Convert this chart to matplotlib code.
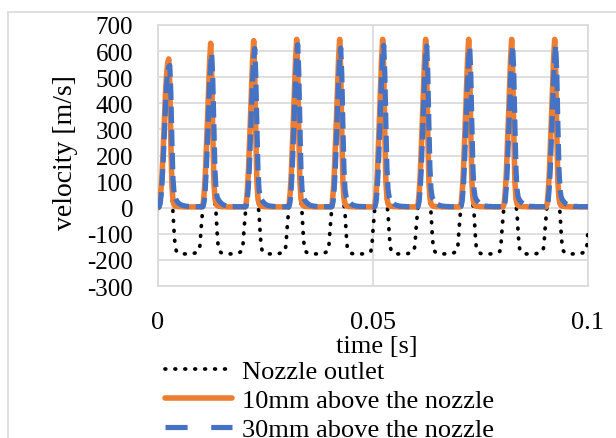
import numpy as np
import matplotlib
matplotlib.use("Agg")
import matplotlib.pyplot as plt
from matplotlib.patches import Rectangle
from matplotlib.lines import Line2D

plt.rcParams['font.family'] = ['Liberation Serif', 'DejaVu Serif']

# sampling times (s), 0.00025 s step, 0 .. 0.1
time_s = np.arange(401) * 0.00025

# velocity [m/s] at nozzle outlet (two lines per 0.01 s period, 40 samples per period)
nozzle_outlet = [
    0, 10, 40, 90, 160, 250, 350, 440, 500, 535, 545, 450, 220, 50, -20, -95, -150, -165, -170, -173,
    -175, -176, -177, -177, -177, -177, -177, -177, -177, -177, -177, -176, -176, -175, -174, -173, -171, -169, -166, -145,
    -85, -35, 15, 65, 140, 232, 340, 455, 552, 600, 495, 258, 80, 10, -20, -95, -150, -165, -170, -173,
    -175, -176, -177, -177, -177, -177, -177, -177, -177, -177, -177, -176, -176, -175, -174, -173, -171, -169, -167, -145,
    -85, -35, 15, 65, 140, 235, 345, 460, 560, 612, 500, 260, 80, 10, -20, -95, -150, -165, -170, -173,
    -175, -176, -177, -177, -177, -177, -177, -177, -177, -177, -177, -176, -176, -175, -174, -173, -171, -169, -167, -145,
    -85, -35, 15, 65, 140, 236, 347, 463, 565, 618, 503, 262, 80, 10, -20, -95, -150, -165, -170, -173,
    -175, -176, -177, -177, -177, -177, -177, -177, -177, -177, -177, -176, -176, -175, -174, -173, -171, -169, -167, -145,
    -85, -35, 15, 65, 140, 236, 347, 463, 565, 618, 503, 262, 80, 10, -20, -95, -150, -165, -170, -173,
    -175, -176, -177, -177, -177, -177, -177, -177, -177, -177, -177, -176, -176, -175, -174, -173, -171, -169, -167, -145,
    -85, -35, 15, 65, 140, 236, 347, 463, 565, 618, 503, 262, 80, 10, -20, -95, -150, -165, -170, -173,
    -175, -176, -177, -177, -177, -177, -177, -177, -177, -177, -177, -176, -176, -175, -174, -173, -171, -169, -167, -145,
    -85, -35, 15, 65, 140, 236, 347, 463, 565, 618, 503, 262, 80, 10, -20, -95, -150, -165, -170, -173,
    -175, -176, -177, -177, -177, -177, -177, -177, -177, -177, -177, -176, -176, -175, -174, -173, -171, -169, -167, -145,
    -85, -35, 15, 65, 140, 236, 347, 463, 565, 618, 503, 262, 80, 10, -20, -95, -150, -165, -170, -173,
    -175, -176, -177, -177, -177, -177, -177, -177, -177, -177, -177, -176, -176, -175, -174, -173, -171, -169, -167, -145,
    -85, -35, 15, 65, 140, 236, 347, 463, 565, 618, 503, 262, 80, 10, -20, -95, -150, -165, -170, -173,
    -175, -176, -177, -177, -177, -177, -177, -177, -177, -177, -177, -176, -176, -175, -174, -173, -171, -169, -167, -145,
    -85, -35, 15, 65, 140, 236, 347, 463, 565, 618, 503, 262, 80, 10, -20, -95, -150, -165, -170, -173,
    -175, -176, -177, -177, -177, -177, -177, -177, -177, -177, -177, -176, -176, -175, -174, -173, -171, -169, -167, -145,
    -85,
]

# velocity [m/s] 10 mm above the nozzle
above_10mm = [
    0, 5, 30, 80, 150, 240, 340, 440, 510, 555, 570, 470, 240, 80, 25, 10, 6, 5, 5, 4,
    4, 4, 4, 4, 3, 3, 3, 3, 3, 3, 3, 3, 3, 3, 3, 3, 3, 3, 3, 3,
    3, 3, 15, 58, 126, 224, 332, 450, 558, 630, 512, 276, 98, 35, 15, 8, 6, 5, 5, 4,
    4, 4, 4, 4, 3, 3, 3, 3, 3, 3, 3, 3, 3, 3, 3, 3, 3, 3, 3, 3,
    3, 3, 15, 60, 130, 230, 340, 460, 568, 640, 518, 280, 100, 35, 15, 8, 6, 5, 5, 4,
    4, 4, 4, 4, 3, 3, 3, 3, 3, 3, 3, 3, 3, 3, 3, 3, 3, 3, 3, 3,
    3, 3, 15, 60, 130, 232, 343, 463, 572, 645, 522, 282, 100, 35, 15, 8, 6, 5, 5, 4,
    4, 4, 4, 4, 3, 3, 3, 3, 3, 3, 3, 3, 3, 3, 3, 3, 3, 3, 3, 3,
    3, 3, 15, 60, 130, 232, 343, 463, 572, 645, 522, 282, 100, 35, 15, 8, 6, 5, 5, 4,
    4, 4, 4, 4, 3, 3, 3, 3, 3, 3, 3, 3, 3, 3, 3, 3, 3, 3, 3, 3,
    3, 3, 15, 60, 130, 232, 343, 463, 572, 645, 522, 282, 100, 35, 15, 8, 6, 5, 5, 4,
    4, 4, 4, 4, 3, 3, 3, 3, 3, 3, 3, 3, 3, 3, 3, 3, 3, 3, 3, 3,
    3, 3, 15, 60, 130, 232, 343, 463, 572, 645, 522, 282, 100, 35, 15, 8, 6, 5, 5, 4,
    4, 4, 4, 4, 3, 3, 3, 3, 3, 3, 3, 3, 3, 3, 3, 3, 3, 3, 3, 3,
    3, 3, 15, 60, 130, 232, 343, 463, 572, 645, 522, 282, 100, 35, 15, 8, 6, 5, 5, 4,
    4, 4, 4, 4, 3, 3, 3, 3, 3, 3, 3, 3, 3, 3, 3, 3, 3, 3, 3, 3,
    3, 3, 15, 60, 130, 232, 343, 463, 572, 645, 522, 282, 100, 35, 15, 8, 6, 5, 5, 4,
    4, 4, 4, 4, 3, 3, 3, 3, 3, 3, 3, 3, 3, 3, 3, 3, 3, 3, 3, 3,
    3, 3, 15, 60, 130, 232, 343, 463, 572, 645, 522, 282, 100, 35, 15, 8, 6, 5, 5, 4,
    4, 4, 4, 4, 3, 3, 3, 3, 3, 3, 3, 3, 3, 3, 3, 3, 3, 3, 3, 3,
    3,
]

# velocity [m/s] 30 mm above the nozzle
above_30mm = [
    0, 2, 15, 50, 110, 190, 290, 390, 470, 520, 540, 545, 440, 250, 110, 55, 38, 29, 23, 18,
    15, 12, 10, 9, 8, 7, 6, 6, 5, 5, 5, 5, 4, 4, 4, 4, 4, 4, 4, 4,
    3, 3, 5, 24, 72, 145, 252, 368, 475, 552, 590, 492, 310, 146, 68, 42, 32, 26, 21, 17,
    13, 11, 9, 8, 7, 6, 6, 5, 5, 5, 5, 4, 4, 4, 4, 4, 4, 4, 4, 4,
    3, 3, 5, 25, 75, 150, 260, 380, 490, 570, 610, 510, 320, 150, 70, 42, 32, 26, 21, 17,
    13, 11, 9, 8, 7, 6, 6, 5, 5, 5, 5, 4, 4, 4, 4, 4, 4, 4, 4, 4,
    3, 3, 5, 25, 76, 153, 265, 387, 498, 582, 625, 520, 326, 153, 71, 42, 32, 26, 21, 17,
    13, 11, 9, 8, 7, 6, 6, 5, 5, 5, 5, 4, 4, 4, 4, 4, 4, 4, 4, 4,
    3, 3, 5, 25, 75, 151, 261, 382, 492, 572, 612, 512, 321, 151, 70, 42, 32, 26, 21, 17,
    13, 11, 9, 8, 7, 6, 6, 5, 5, 5, 5, 4, 4, 4, 4, 4, 4, 4, 4, 4,
    3, 3, 5, 25, 76, 153, 264, 385, 496, 579, 622, 518, 325, 152, 71, 42, 32, 26, 21, 17,
    13, 11, 9, 8, 7, 6, 6, 5, 5, 5, 5, 4, 4, 4, 4, 4, 4, 4, 4, 4,
    3, 3, 5, 25, 76, 152, 263, 384, 495, 578, 620, 517, 324, 152, 71, 42, 32, 26, 21, 17,
    13, 11, 9, 8, 7, 6, 6, 5, 5, 5, 5, 4, 4, 4, 4, 4, 4, 4, 4, 4,
    3, 3, 5, 25, 75, 151, 262, 383, 493, 575, 615, 514, 322, 151, 70, 42, 32, 26, 21, 17,
    13, 11, 9, 8, 7, 6, 6, 5, 5, 5, 5, 4, 4, 4, 4, 4, 4, 4, 4, 4,
    3, 3, 5, 25, 76, 152, 263, 384, 495, 578, 620, 517, 324, 152, 71, 42, 32, 26, 21, 17,
    13, 11, 9, 8, 7, 6, 6, 5, 5, 5, 5, 4, 4, 4, 4, 4, 4, 4, 4, 4,
    3, 3, 5, 25, 76, 152, 263, 384, 495, 578, 620, 517, 324, 152, 71, 42, 32, 26, 21, 17,
    13, 11, 9, 8, 7, 6, 6, 5, 5, 5, 5, 4, 4, 4, 4, 4, 4, 4, 4, 4,
    4,
]

series_labels = ["Nozzle outlet", "10mm above the nozzle", "30mm above the nozzle"]
y_ticks = list(range(-300, 701, 100))
x_ticks = [0, 0.05, 0.1]
x_tick_labels = ["0", "0.05", "0.1"]

W, H = 616, 439
fig = plt.figure(figsize=(W / 100, H / 100), dpi=100)
ax = fig.add_axes([158 / W, 1 - 287 / H, 430 / W, 261 / H])

grid_c = "#d9d9d9"
black_style = dict(color="black", lw=2.7, linestyle=(0, (0.2, 2.45)), dash_capstyle="round")
orange_style = dict(color="#ED7D31", lw=4.0, solid_capstyle="round", solid_joinstyle="round")
blue_style = dict(color="#4472C4", lw=3.7, dash_capstyle="butt")

ax.plot(time_s, nozzle_outlet, zorder=3, **black_style)
ax.plot(time_s, above_10mm, zorder=4, **orange_style)
ax.plot(time_s, above_30mm, linestyle=(0, (3.2, 1.3)), zorder=5, **blue_style)

ax.set_xlim(0, 0.1)
ax.set_ylim(-300, 700)
ax.set_yticks(y_ticks)
ax.set_yticklabels([str(v) for v in y_ticks], fontsize=18)
ax.set_xticks(x_ticks)
ax.set_xticklabels(x_tick_labels, fontsize=19)
ax.tick_params(axis="both", length=0)
ax.tick_params(axis="y", pad=18)
ax.tick_params(axis="x", pad=18)
ax.grid(True, color=grid_c, lw=1.2)
ax.set_axisbelow(True)
for s in ax.spines.values():
    s.set_color(grid_c)
    s.set_linewidth(1.2)

ax.set_xlabel("time [s]", fontsize=19)
ax.xaxis.label.set_va("center")
ax.xaxis.set_label_coords((377 - 158) / 430, (287 - 347) / 261)
ax.set_ylabel("velocity [m/s]", fontsize=20)
ax.yaxis.label.set_va("center")
ax.yaxis.set_label_coords((66 - 158) / 430, (287 - 153) / 261)

handles = [
    Line2D([], [], **black_style),
    Line2D([], [], **orange_style),
    Line2D([], [], linestyle=(0, (4.3, 4.6)), **blue_style),
]
fig.legend(handles, series_labels, loc="upper left", bbox_to_anchor=(165 / W, 1 - 361 / H),
           frameon=False, fontsize=19, handlelength=2.55, handletextpad=0.38,
           labelspacing=0.2, borderaxespad=0, borderpad=0)

fig.patches.append(Rectangle((8 / W, -0.1), 1.2, 1 - 13 / H + 0.1, transform=fig.transFigure,
                             fill=False, edgecolor=grid_c, lw=1.2, zorder=0))

fig.savefig("out.png", dpi=100)
